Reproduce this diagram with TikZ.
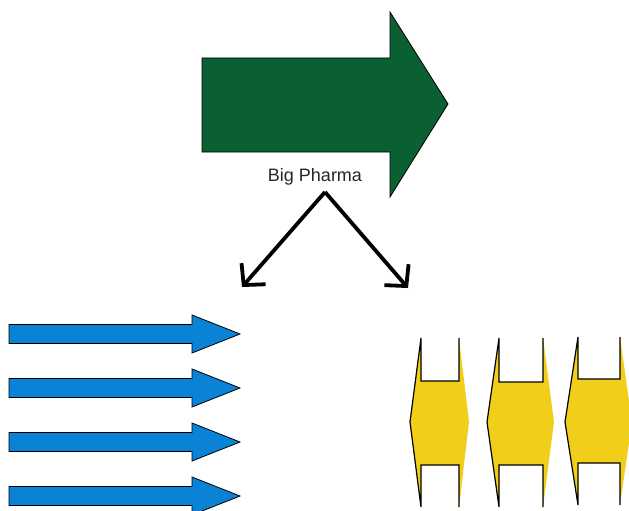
\documentclass[tikz,border=0pt]{standalone}
\usepackage{fontspec}
\setmainfont{Liberation Sans}
\usetikzlibrary{arrows.meta}
\definecolor{pgreen}{RGB}{10,96,51}
\definecolor{pblue}{RGB}{10,130,214}
\definecolor{pyellow}{RGB}{240,206,26}
\tikzset{
  greenarrow/.style={fill=pgreen,draw=black,line width=0.8pt,line join=miter},
  bluearrow/.style={fill=pblue,draw=black,line width=0.8pt,line join=miter},
  yellowfill/.style={fill=pyellow},
  yellowedge/.style={draw=black,line width=1.2pt,line join=miter},
  splitarrow/.style={draw=black,line width=3.8pt,-{Straight Barb[length=15pt,width=32pt]}},
  labeltext/.style={font=\fontsize{18}{20}\selectfont,inner sep=0pt,text=black!85}
}
\begin{document}
\begin{tikzpicture}[x=1pt,y=-1pt]
\useasboundingbox (0,0) rectangle (629,511);
% green arrow
\draw[greenarrow] (202,58) -- (390,58) -- (390,12) -- (448,104) -- (390,197) -- (390,152) -- (202,152) -- cycle;
% label
\node[labeltext] (bp) at (315,177) {Big Pharma};
\coordinate (apex) at (325,192);
\coordinate (lt) at (242,287);
\coordinate (rt) at (408,288);
\draw[splitarrow] (apex) -- (lt);
\draw[splitarrow] (apex) -- (rt);
% blue arrows
\foreach \yc in {334,388,442,496}{
  \draw[bluearrow] (9,\yc-9.5) -- (192,\yc-9.5) -- (192,\yc-19) -- (240,\yc) -- (192,\yc+19) -- (192,\yc+9.5) -- (9,\yc+9.5) -- cycle;
}
% yellow shapes
\foreach \a/\b/\c/\d/\t/\n/\m/\bt in {410/421/459/469/338/381/465/507, 487/499/543/554/338/382/465/507, 565/578/620/632/337/379/463/505}{
  \fill[yellowfill] (\b,\t) -- (\b,\n) -- (\c,\n) -- (\c,\t) -- (\d,422) -- (\c,\bt) -- (\c,\m) -- (\b,\m) -- (\b,\bt) -- (\a,422) -- cycle;
  \draw[yellowedge] (\c,\t) -- (\c,\n) -- (\b,\n) -- (\b,\t) -- (\a,422) -- (\b,\bt) -- (\b,\m) -- (\c,\m) -- (\c,\bt);
}
\end{tikzpicture}
\end{document}
